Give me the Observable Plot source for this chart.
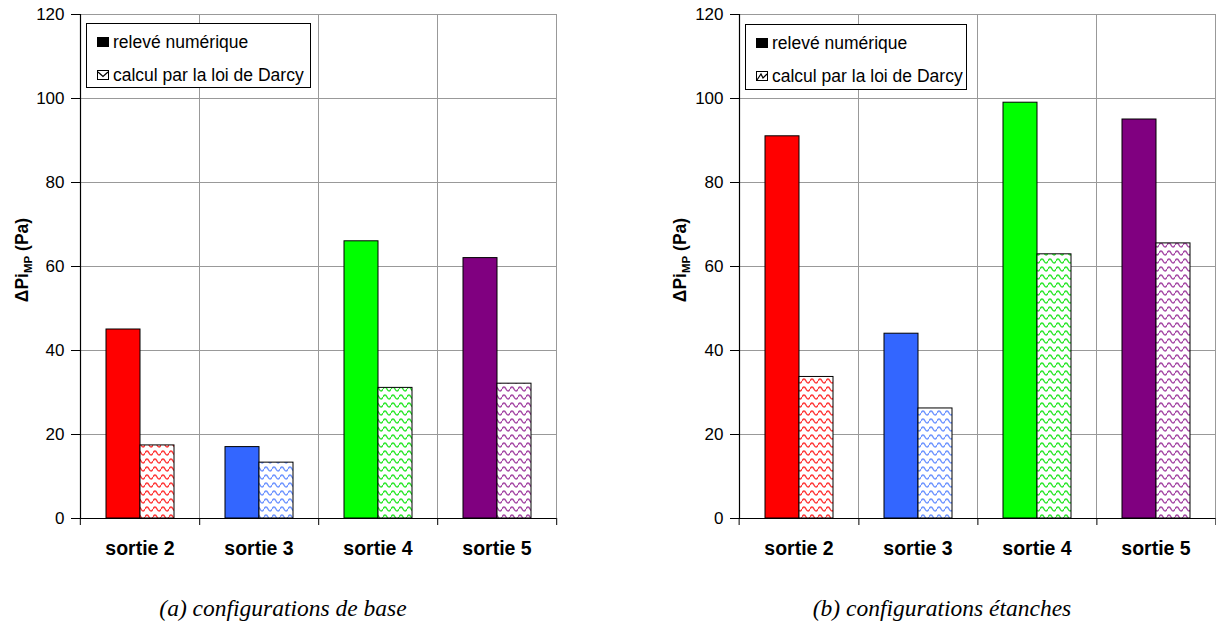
<!DOCTYPE html>
<html><head><meta charset="utf-8">
<script src="https://cdn.jsdelivr.net/npm/d3@7"></script>
<script src="https://cdn.jsdelivr.net/npm/@observablehq/plot@0.6"></script>
<style>
body{margin:0;background:#fff;}
#wrap{position:relative;width:1216px;height:624px;overflow:hidden;font-family:"Liberation Sans",Arial,sans-serif;background:#fff;}
.panel{position:absolute;top:0;}
.legend{position:absolute;border:1px solid #000;background:#fff;font-size:17.5px;color:#000;box-sizing:border-box;}
.legend .item{position:absolute;left:9px;height:20px;display:flex;align-items:center;white-space:nowrap;}
.legend .item svg{margin-right:3px;}
.caption{position:absolute;top:597px;font-family:"Liberation Serif","Times New Roman",serif;font-style:italic;font-size:23.5px;line-height:23.5px;transform:translateX(-50%);white-space:nowrap;color:#000;}
</style></head>
<body><div id="wrap"></div>
<script>
// ---- data ----
const categories = ["sortie 2", "sortie 3", "sortie 4", "sortie 5"];
const seriesNames = ["relevé numérique", "calcul par la loi de Darcy"];
const barColors = ["#FF0000", "#3366FF", "#00FF00", "#800080"];
const waveColors = ["#ff3a3a", "#7096ff", "#2ee82e", "#a64aa6"];
const baseReleve = [45, 17, 66, 62];
const baseDarcy = [17.4, 13.3, 31.1, 32.1];
const etancheReleve = [91, 44, 99, 95];
const etancheDarcy = [33.7, 26.2, 62.9, 65.5];
const yTicks = [0, 20, 40, 60, 80, 100, 120];
const captions = ["(a) configurations de base", "(b) configurations étanches"];

const wrap = document.getElementById("wrap");

// shared pattern definitions
const defsSvg = d3.select(wrap).append("svg").attr("width", 0).attr("height", 0)
  .style("position", "absolute").style("left", 0).style("top", 0);
const defs = defsSvg.append("defs");
waveColors.forEach((c, i) => {
  const p = defs.append("pattern").attr("id", "wave" + i)
    .attr("patternUnits", "userSpaceOnUse").attr("width", 8).attr("height", 8);
  p.append("rect").attr("width", 8).attr("height", 8).attr("fill", "#fff");
  p.append("path").attr("d", "M0,5 Q2,1 4,5 T8,5").attr("fill", "none")
    .attr("stroke", c).attr("stroke-width", 1.5);
});

const W = 608, H = 570, MT = 14, MB = 52;

function panel(cfg) {
  const rows = categories.flatMap((c, i) => [
    {cat: c, series: seriesNames[0], value: cfg.releve[i], fill: barColors[i]},
    {cat: c, series: seriesNames[1], value: cfg.darcy[i], fill: `url(#wave${i})`}
  ]);
  const bw = (W - cfg.ml - cfg.mr) / categories.length;
  const plot = Plot.plot({
    width: W, height: H,
    marginTop: MT, marginBottom: MB, marginLeft: cfg.ml, marginRight: cfg.mr,
    style: {fontFamily: "Liberation Sans, Arial, sans-serif", fontSize: "17px", background: "transparent", overflow: "visible", color: "#000"},
    fx: {domain: categories, padding: 0, label: null},
    x: {domain: seriesNames, paddingInner: 0, paddingOuter: 0.73, axis: null},
    y: {domain: [0, 120], label: null},
    color: {type: "identity"},
    marks: [
      Plot.ruleY(yTicks, {stroke: "#999", strokeWidth: 1}),
      Plot.frame({stroke: "#999", strokeWidth: 1}),
      Plot.barY(rows, {fx: "cat", x: "series", y: "value", fill: "fill", stroke: "#000", strokeWidth: 1}),
      Plot.ruleY([0], {stroke: "#000", strokeWidth: 1.2}),
      Plot.frame({anchor: "left", stroke: "#000", strokeWidth: 1.2, facetAnchor: "left"}),
      Plot.axisY({ticks: yTicks, tickSize: 9, tickPadding: 7, label: null, fontSize: 17}),
      Plot.axisFx({anchor: "bottom", tickSize: 0, tickPadding: 23, label: null, fontWeight: "bold", fontSize: 19.5}),
      Plot.axisFx({anchor: "bottom", tickSize: 7, tickFormat: () => "", label: null, dx: bw / 2}),
      Plot.axisFx({anchor: "bottom", ticks: [categories[0]], tickSize: 7, tickFormat: () => "", label: null, dx: -bw / 2})
    ]
  });
  plot.classList.add("panel");
  plot.style.left = cfg.left + "px";
  wrap.appendChild(plot);

  // y axis label with subscript
  const t = d3.select(plot).append("text")
    .attr("transform", `translate(${cfg.labelX},260) rotate(-90)`)
    .attr("text-anchor", "middle").attr("font-weight", "bold")
    .attr("font-size", 17.5).attr("fill", "#000")
    .attr("font-family", "Liberation Sans, Arial, sans-serif");
  t.append("tspan").text("ΔPi");
  t.append("tspan").attr("font-size", 11.5).attr("dy", 4).text("MP");
  t.append("tspan").attr("dy", -4).text(" (Pa)");

  // legend
  const lg = d3.select(wrap).append("div").attr("class", "legend")
    .style("left", cfg.legend[0] + "px").style("top", cfg.legend[1] + "px")
    .style("width", cfg.legend[2] + "px").style("height", cfg.legend[3] + "px");
  const it1 = lg.append("div").attr("class", "item").style("top", "8px");
  it1.append("svg").attr("width", 14).attr("height", 12)
    .append("rect").attr("x", 1).attr("y", 1).attr("width", 12).attr("height", 10).attr("fill", "#000");
  it1.append("span").text(seriesNames[0]);
  const it2 = lg.append("div").attr("class", "item").style("top", "41px");
  const ic = it2.append("svg").attr("width", 14).attr("height", 12);
  ic.append("rect").attr("x", 1.5).attr("y", 1.5).attr("width", 11).attr("height", 9)
    .attr("fill", "#fff").attr("stroke", "#000").attr("stroke-width", 1);
  ic.append("path").attr("d", cfg.iconPath).attr("fill", "none").attr("stroke", "#000").attr("stroke-width", 1.2);
  it2.append("span").text(seriesNames[1]);

  // caption
  d3.select(wrap).append("div").attr("class", "caption")
    .style("left", cfg.captionX + "px").text(cfg.caption);
}

panel({left: 0, ml: 79, mr: 51.5, releve: baseReleve, darcy: baseDarcy, labelX: 28,
       legend: [86, 23, 225, 65], iconPath: "M2,3 L7,7.5 L12,3", caption: captions[0], captionX: 283});
panel({left: 608, ml: 129, mr: 0, releve: etancheReleve, darcy: etancheDarcy, labelX: 78,
       legend: [745, 24, 222, 66], iconPath: "M2,10 L6,4 L8,8 L12,4", caption: captions[1], captionX: 942});
</script>
</body></html>
